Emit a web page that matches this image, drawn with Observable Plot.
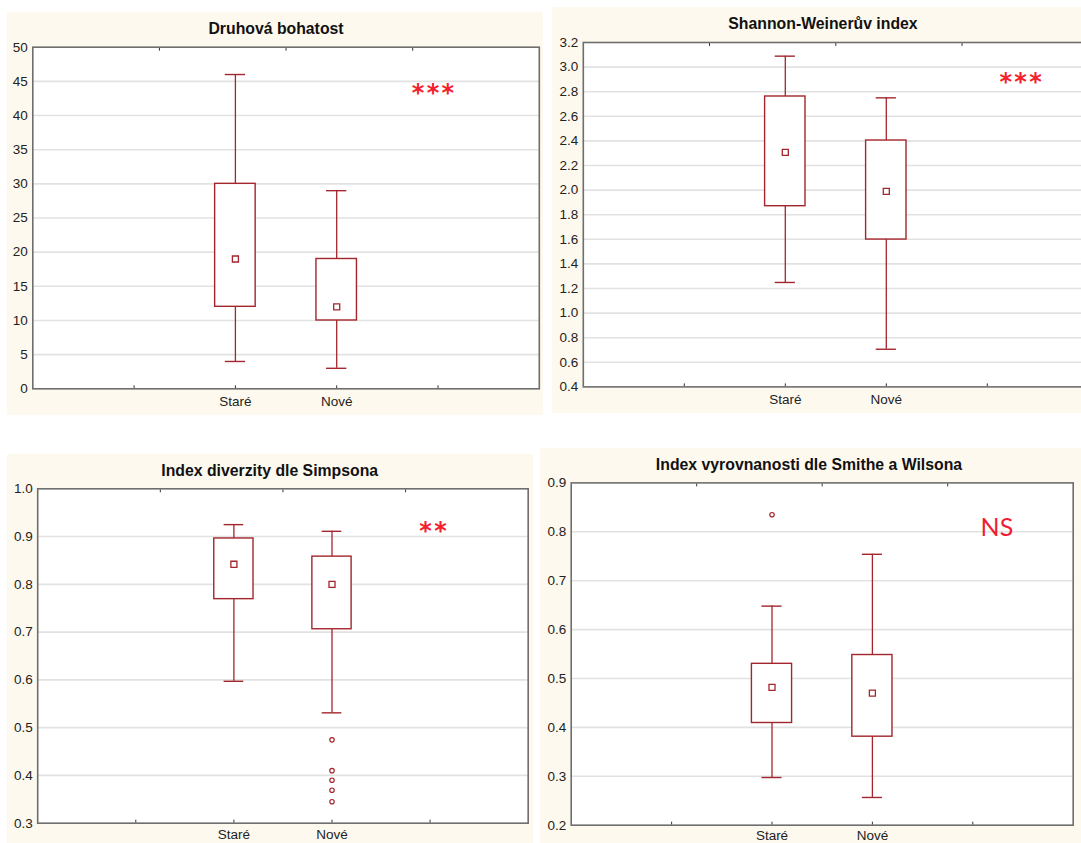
<!DOCTYPE html>
<html><head><meta charset="utf-8">
<script src="https://cdn.jsdelivr.net/npm/d3@7"></script>
<script src="https://cdn.jsdelivr.net/npm/@observablehq/plot@0.6"></script>
<style>
html,body{margin:0;padding:0;background:#fff;overflow:hidden;width:1081px;height:843px;}
.panel{position:absolute;background:#fef9ee;overflow:hidden;}
.title{position:absolute;font-family:"Liberation Sans",Arial,sans-serif;font-weight:bold;font-size:15.8px;color:#111;white-space:nowrap;transform:translate(-50%,-50%);line-height:1;}
.panel svg{position:absolute;left:0;top:0;max-width:none !important;}
</style></head><body>
<script>
// ---------- data ----------
const categories = ["Staré", "Nové"];
const categoryPos = [2, 3];               // positions on a 0–5 category axis
const bottomTicks = [1, 2, 3, 4];
const topTicks = [1.25, 2.5, 3.75];

// Druhová bohatost
const richTitle = "Druhová bohatost";
const richMin = [4, 3], richQ1 = [12, 10], richMed = [19, 12], richQ3 = [30, 19], richMax = [46, 29];
const richOut = [[], []];
const richTicks = [0, 5, 10, 15, 20, 25, 30, 35, 40, 45, 50];
const richNote = {text: "*\u200A*\u200A*", x: 3.95, y: 44.1};

// Shannon-Weinerův index
const shanTitle = "Shannon-Weinerův index";
const shanMin = [1.249, 0.706], shanQ1 = [1.869, 1.598], shanMed = [2.306, 1.989], shanQ3 = [2.761, 2.403], shanMax = [3.089, 2.75];
const shanOut = [[], []];
const shanTicks = [0.4, 0.6, 0.8, 1.0, 1.2, 1.4, 1.6, 1.8, 2.0, 2.2, 2.4, 2.6, 2.8, 3.0, 3.2];
const shanNote = {text: "*\u200A*\u200A*", x: 4.33, y: 2.925};

// Index diverzity dle Simpsona
const simpTitle = "Index diverzity dle Simpsona";
const simpMin = [0.597, 0.531], simpQ1 = [0.769, 0.706], simpMed = [0.842, 0.80], simpQ3 = [0.896, 0.858], simpMax = [0.925, 0.911];
const simpOut = [[], [0.4745, 0.41, 0.39, 0.369, 0.345]];
const simpTicks = [0.3, 0.4, 0.5, 0.6, 0.7, 0.8, 0.9, 1.0];
const simpNote = {text: "*\u200A*", x: 4.03, y: 0.923};

// Index vyrovnanosti dle Smithe a Wilsona
const smitTitle = "Index vyrovnanosti dle Smithe a Wilsona";
const smitMin = [0.2975, 0.2567], smitQ1 = [0.409, 0.381], smitMed = [0.482, 0.47], smitQ3 = [0.53, 0.548], smitMax = [0.648, 0.754];
const smitOut = [[0.835], []];
const smitTicks = [0.2, 0.3, 0.4, 0.5, 0.6, 0.7, 0.8, 0.9];
const smitNote = {text: "NS", x: 4.24, y: 0.808};

// ---------- layout / style ----------
const RED = "#a3262c";
const panels = [
  {title: richTitle, min: richMin, q1: richQ1, med: richMed, q3: richQ3, max: richMax, out: richOut, ticks: richTicks, note: richNote, fmt: d => String(d), star: true,
   left: 7, top: 12, w: 536, h: 403, svgW: 536, mL: 25.3, mR: 4.2, mT: 34.7, mB: 26.7, tx: 269, ty: 16.8, xPad: 7.5},
  {title: shanTitle, min: shanMin, q1: shanQ1, med: shanMed, q3: shanQ3, max: shanMax, out: shanOut, ticks: shanTicks, note: shanNote, fmt: d => d.toFixed(1), star: true,
   left: 551.8, top: 7.3, w: 529.2, h: 405.7, svgW: 540, mL: 30.8, mR: 4.2, mT: 35, mB: 26.3, tx: 271.2, ty: 16.7, xPad: 7.5},
  {title: simpTitle, min: simpMin, q1: simpQ1, med: simpMed, q3: simpQ3, max: simpMax, out: simpOut, ticks: simpTicks, note: simpNote, fmt: d => d.toFixed(1), star: true,
   left: 7, top: 454, w: 525.7, h: 389, svgW: 525.7, mL: 30.2, mR: 5, mT: 34.3, mB: 20.3, tx: 262.7, ty: 16.7, xPad: 6.5},
  {title: smitTitle, min: smitMin, q1: smitQ1, med: smitMed, q3: smitQ3, max: smitMax, out: smitOut, ticks: smitTicks, note: smitNote, fmt: d => d.toFixed(1), star: false,
   left: 540.2, top: 448.3, w: 540.8, h: 394.7, svgW: 540.8, mL: 30.7, mR: 8.1, mT: 34.4, mB: 18, tx: 268.8, ty: 16.7, xPad: 5.5}
];

function makePanel(p) {
  const div = document.createElement("div");
  div.className = "panel";
  Object.assign(div.style, {left: p.left + "px", top: p.top + "px", width: p.w + "px", height: p.h + "px"});
  const rows = categories.map((c, i) => ({cat: c, pos: categoryPos[i], min: p.min[i], q1: p.q1[i], med: p.med[i], q3: p.q3[i], max: p.max[i]}));
  const outl = rows.flatMap((r, i) => p.out[i].map(v => ({pos: r.pos, v})));
  const dom = [p.ticks[0], p.ticks[p.ticks.length - 1]];
  const inner = p.ticks.slice(1, -1);
  const noteStyle = p.star
    ? {fill: "#f5222d", fontSize: 24, fontWeight: "bold", fontFamily: "DejaVu Sans", dy: 5.5}
    : {fill: "#f01c32", fontSize: 25, fontFamily: "Lato", dy: 0};
  const plot = Plot.plot({
    width: p.svgW, height: p.h,
    marginLeft: p.mL, marginRight: p.mR, marginTop: p.mT, marginBottom: p.mB,
    style: {background: "transparent", fontFamily: "'Liberation Sans', Arial, sans-serif", fontSize: "13.5px", color: "#222", overflow: "visible"},
    x: {domain: [0, 5]},
    y: {domain: dom},
    marks: [
      Plot.frame({fill: "white", stroke: null}),
      Plot.ruleY(inner, {stroke: "#e2e2e2", strokeWidth: 1.6}),
      Plot.axisY({ticks: p.ticks, tickSize: 0, tickPadding: 5, tickFormat: p.fmt, label: null}),
      Plot.axisX({ticks: categoryPos, tickSize: 0, tickPadding: p.xPad, tickFormat: d => categories[categoryPos.indexOf(d)], label: null}),
      Plot.axisX({ticks: bottomTicks, tickSize: -3, tickFormat: () => "", label: null, stroke: "#333"}),
      Plot.axisX({anchor: "top", ticks: topTicks, tickSize: -3, tickFormat: () => "", label: null, stroke: "#333"}),
      Plot.ruleX(rows, {x: "pos", y1: "min", y2: "q1", stroke: RED, strokeWidth: 1.3}),
      Plot.ruleX(rows, {x: "pos", y1: "q3", y2: "max", stroke: RED, strokeWidth: 1.3}),
      Plot.ruleY(rows, {y: "min", x1: d => d.pos - 0.1, x2: d => d.pos + 0.1, stroke: RED, strokeWidth: 1.4}),
      Plot.ruleY(rows, {y: "max", x1: d => d.pos - 0.1, x2: d => d.pos + 0.1, stroke: RED, strokeWidth: 1.4}),
      Plot.rect(rows, {x1: d => d.pos - 0.2, x2: d => d.pos + 0.2, y1: "q1", y2: "q3", fill: "white", stroke: RED, strokeWidth: 1.4}),
      Plot.dot(rows, {x: "pos", y: "med", symbol: "square", r: 3.4, fill: "white", stroke: RED, strokeWidth: 1.3}),
      Plot.dot(outl, {x: "pos", y: "v", r: 2.2, fill: "white", stroke: RED, strokeWidth: 1.2}),
      Plot.text([p.note], {x: "x", y: "y", text: "text", textAnchor: "middle", ...noteStyle}),
      Plot.frame({stroke: "#6e6e6e", strokeWidth: 1.6})
    ]
  });
  div.appendChild(plot);
  const t = document.createElement("div");
  t.className = "title";
  t.textContent = p.title;
  Object.assign(t.style, {left: p.tx + "px", top: p.ty + "px"});
  div.appendChild(t);
  document.body.appendChild(div);
}
panels.forEach(makePanel);
</script>
</body></html>
